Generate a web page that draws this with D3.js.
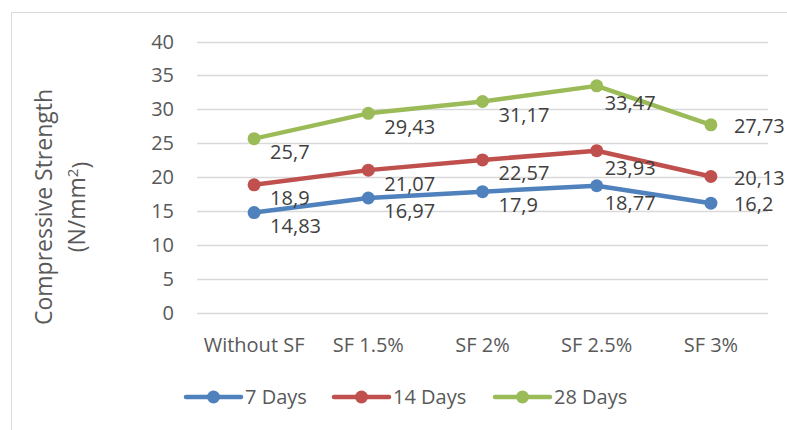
<!DOCTYPE html>
<html>
<head>
<meta charset="utf-8">
<script src="https://cdn.jsdelivr.net/npm/d3@7"></script>
<style>
  body { margin: 0; background: #fff; }
  svg text { font-family: "Open Sans", "Noto Sans", sans-serif; }
</style>
</head>
<body>
<div id="chart"></div>
<script>
// data
var categories = ["Without SF", "SF 1.5%", "SF 2%", "SF 2.5%", "SF 3%"];
var days7  = [14.83, 16.97, 17.9, 18.77, 16.2];
var days14 = [18.9, 21.07, 22.57, 23.93, 20.13];
var days28 = [25.7, 29.43, 31.17, 33.47, 27.73];
var seriesNames = ["7 Days", "14 Days", "28 Days"];
var yTicks = [0, 5, 10, 15, 20, 25, 30, 35, 40];

var colors = ["#4F81BD", "#C0504D", "#9BBB59"];
var series = [days7, days14, days28].map(function(v, i) {
  return { name: seriesNames[i], values: v, color: colors[i] };
});

var w = 787, h = 430;
var fs = "20px";
var svg = d3.select("#chart").append("svg")
  .attr("width", w).attr("height", h);

// chart frame
svg.append("path")
  .attr("d", "M11.5," + h + "V12.5H" + w)
  .attr("fill", "none").attr("stroke", "#d9d9d9").attr("stroke-width", 1);

var x = d3.scalePoint().domain(categories).range([197, 768]).padding(0.5);
var y = d3.scaleLinear().domain([0, 40]).range([313.3, 41.5]);

// gridlines
svg.selectAll("line.grid")
  .data(yTicks).enter().append("line")
  .attr("class", "grid")
  .attr("x1", 197).attr("x2", 768)
  .attr("y1", function(d) { return Math.round(y(d)) + 0.5; })
  .attr("y2", function(d) { return Math.round(y(d)) + 0.5; })
  .attr("stroke", "#d9d9d9").attr("stroke-width", 1.3);

// y tick labels
svg.selectAll("text.ytick")
  .data(yTicks).enter().append("text")
  .attr("class", "ytick")
  .attr("x", 174).attr("y", function(d) { return y(d); })
  .attr("dy", "0.35em").attr("text-anchor", "end")
  .attr("font-size", fs).attr("fill", "#595959")
  .text(function(d) { return d; });

// x tick labels
svg.selectAll("text.xtick")
  .data(categories).enter().append("text")
  .attr("class", "xtick")
  .attr("x", function(d) { return x(d); }).attr("y", 345)
  .attr("dy", "0.35em").attr("text-anchor", "middle")
  .attr("font-size", fs).attr("fill", "#595959")
  .text(function(d) { return d; });

// y axis title
var title = svg.append("text")
  .attr("transform", "translate(60,207) rotate(-90)")
  .attr("text-anchor", "middle")
  .attr("font-size", "23px").attr("fill", "#595959");
title.append("tspan").attr("x", 0).attr("y", -16).attr("dy", "0.35em").text("Compressive Strength");
var l2 = title.append("tspan").attr("x", 0).attr("y", 17).attr("dy", "0.35em");
l2.append("tspan").text("(N/mm");
l2.append("tspan").attr("dy", "-0.5em").attr("font-size", "15px").text("2");
l2.append("tspan").attr("dy", "0.5em").text(")");

// lines
var line = d3.line()
  .x(function(d, i) { return x(categories[i]); })
  .y(function(d) { return y(d); });

series.forEach(function(s) {
  svg.append("path")
    .datum(s.values)
    .attr("d", line)
    .attr("fill", "none")
    .attr("stroke", s.color)
    .attr("stroke-width", 4.5)
    .attr("stroke-linejoin", "round");
  svg.selectAll(null)
    .data(s.values).enter().append("circle")
    .attr("cx", function(d, i) { return x(categories[i]); })
    .attr("cy", function(d) { return y(d); })
    .attr("r", 6.5)
    .attr("fill", s.color);
});

// data labels: below-right, last column straight right
function labDx(i) { return i == 4 ? 23 : (i == 3 ? 8 : 16); }
function labDy(i) { return i == 4 ? 1 : (i == 3 ? 17 : 13.5); }
series.forEach(function(s) {
  svg.selectAll(null)
    .data(s.values).enter().append("text")
    .attr("x", function(d, i) { return x(categories[i]) + labDx(i); })
    .attr("y", function(d, i) { return y(d) + labDy(i); })
    .attr("dy", "0.35em")
    .attr("font-size", fs).attr("fill", "#404040")
    .text(function(d) { return String(d).replace(".", ","); });
});

// legend
var legX = [186, 334, 495];
series.forEach(function(s, i) {
  var g = svg.append("g").attr("transform", "translate(" + legX[i] + ",397)");
  g.append("line").attr("x1", 0).attr("x2", 55)
    .attr("stroke", s.color).attr("stroke-width", 4.5)
    .attr("stroke-linecap", "round");
  g.append("circle").attr("cx", 27.5).attr("r", 6.5).attr("fill", s.color);
  g.append("text").attr("x", 59).attr("dy", "0.35em")
    .attr("font-size", fs).attr("fill", "#595959")
    .text(s.name);
});
</script>
</body>
</html>
